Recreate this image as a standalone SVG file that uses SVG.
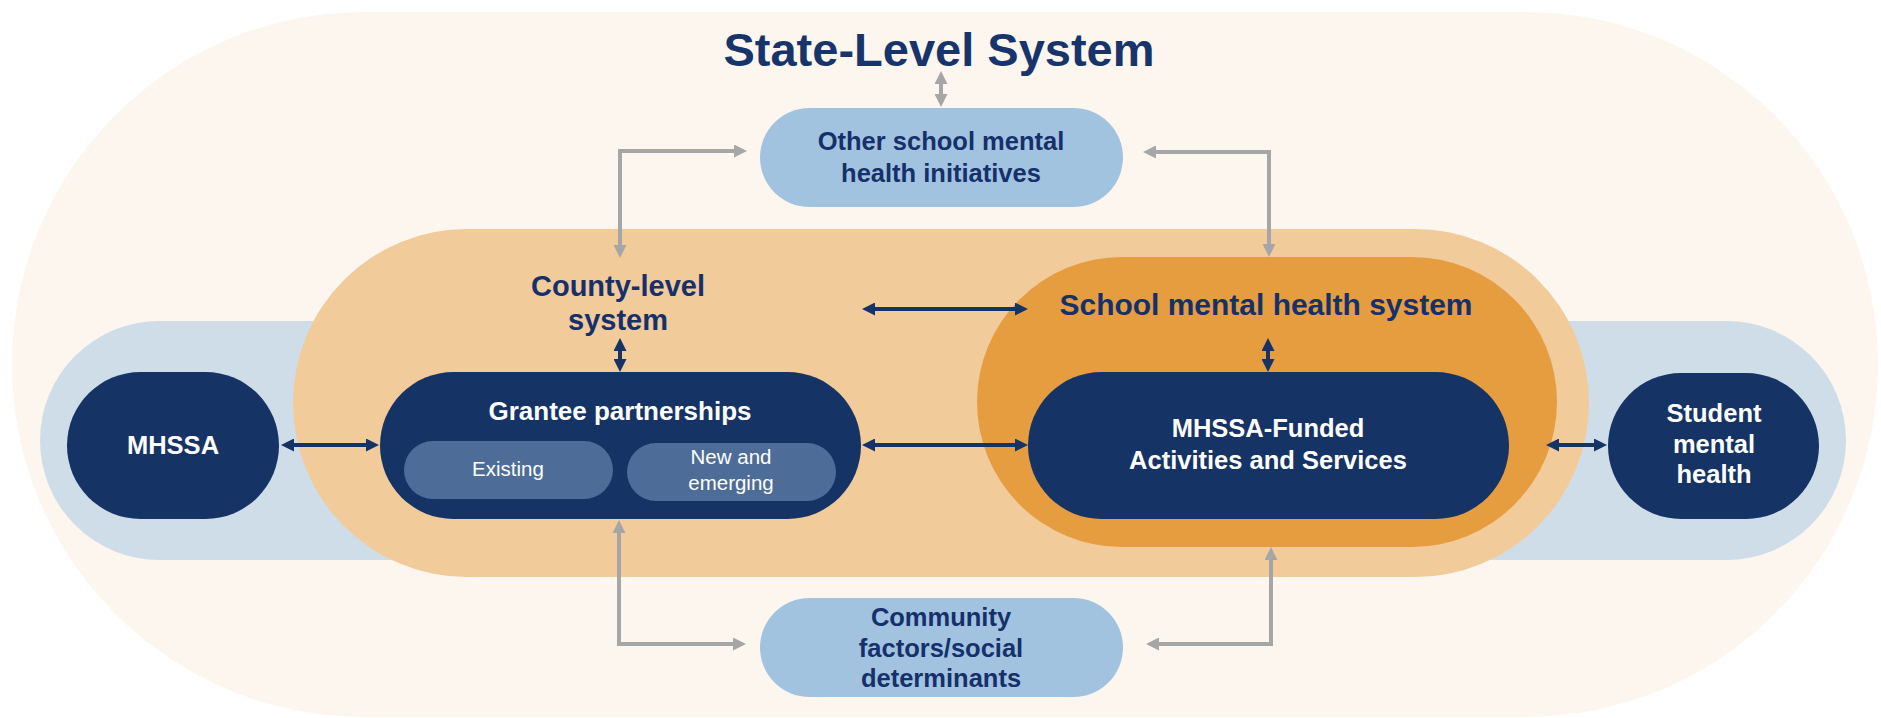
<svg xmlns="http://www.w3.org/2000/svg" width="1881" height="718" viewBox="0 0 1881 718">
<defs>
<style>
.t{font-family:"Liberation Sans",Arial,sans-serif;font-weight:bold;text-anchor:middle}
.nv{fill:#15306A}
.wh{fill:#FFFFFF}
.reg{font-family:"Liberation Sans",Arial,sans-serif;font-weight:normal;text-anchor:middle;fill:#FFFFFF;font-size:20.5px}
.navy{fill:#163366}
.sub{fill:#4D6D98}
.lb{fill:#A2C3E0}
.cn{fill:none;stroke:#163366;stroke-width:4}
.cg{fill:none;stroke:#A6A6A6;stroke-width:4}
</style>
<marker id="hn" viewBox="0 0 13 13" markerUnits="userSpaceOnUse" markerWidth="13" markerHeight="13" refX="3" refY="6.5" orient="auto-start-reverse">
<path d="M0,0 L13,6.5 L0,13 z" fill="#163366"/>
</marker>
<marker id="hg" viewBox="0 0 13 13" markerUnits="userSpaceOnUse" markerWidth="13" markerHeight="13" refX="3" refY="6.5" orient="auto-start-reverse">
<path d="M0,0 L13,6.5 L0,13 z" fill="#A6A6A6"/>
</marker>
</defs>

<g id="state-level-system">
<rect x="12" y="12" width="1866" height="705" rx="352.5" ry="352.5" fill="#FDF6EF"/>
<text class="t" x="939" y="66" font-size="47" fill="#17356B">State-Level System</text>
</g>

<g id="outer-band">
<rect x="40" y="321" width="1806" height="239" rx="119.5" ry="119.5" fill="#CFDDE8"/>
</g>

<g id="county-level-system">
<rect x="293" y="229" width="1296" height="348" rx="174" ry="174" fill="#F2CB9B"/>
<text class="t nv" font-size="29" x="618" y="296">County-level</text>
<text class="t nv" font-size="29" x="618" y="330">system</text>
</g>

<g id="school-mental-health-system">
<rect x="977" y="257" width="580" height="290" rx="145" ry="145" fill="#E69D40"/>
<text class="t nv" font-size="29" x="1266" y="315" textLength="413" lengthAdjust="spacingAndGlyphs">School mental health system</text>
</g>

<g id="other-initiatives">
<rect x="760" y="108" width="363" height="99" rx="49.5" ry="49.5" class="lb"/>
<text class="t nv" font-size="25.5" x="941" y="150">Other school mental</text>
<text class="t nv" font-size="25.5" x="941" y="182">health initiatives</text>
</g>

<g id="community-factors">
<rect x="760" y="598" width="363" height="99" rx="49.5" ry="49.5" class="lb"/>
<text class="t nv" font-size="25.5" x="941" y="626">Community</text>
<text class="t nv" font-size="25.5" x="941" y="657">factors/social</text>
<text class="t nv" font-size="25.5" x="941" y="687">determinants</text>
</g>

<g id="mhssa">
<rect x="67" y="372" width="212" height="147" rx="73.5" ry="73.5" class="navy"/>
<text class="t wh" font-size="25.5" x="173" y="454">MHSSA</text>
</g>

<g id="grantee-partnerships">
<rect x="380" y="372" width="481" height="147" rx="73.5" ry="73.5" class="navy"/>
<text class="t wh" font-size="26" x="620" y="420">Grantee partnerships</text>
<g id="existing">
<rect x="404" y="441" width="209" height="58" rx="29" ry="29" class="sub"/>
<text class="reg" x="508" y="476">Existing</text>
</g>
<g id="new-and-emerging">
<rect x="627" y="443" width="209" height="58" rx="29" ry="29" class="sub"/>
<text class="reg" x="731" y="464">New and</text>
<text class="reg" x="731" y="490">emerging</text>
</g>
</g>

<g id="mhssa-funded">
<rect x="1028" y="372" width="481" height="147" rx="73.5" ry="73.5" class="navy"/>
<text class="t wh" font-size="25.5" x="1268" y="437">MHSSA-Funded</text>
<text class="t wh" font-size="25.5" x="1268" y="469">Activities and Services</text>
</g>

<g id="student-mental-health">
<rect x="1608" y="373" width="211" height="146" rx="73" ry="73" class="navy"/>
<text class="t wh" font-size="25.5" x="1714" y="422">Student</text>
<text class="t wh" font-size="25.5" x="1714" y="453">mental</text>
<text class="t wh" font-size="25.5" x="1714" y="483">health</text>
</g>

<g id="connectors">
<path class="cg" d="M941,81 V97" marker-start="url(#hg)" marker-end="url(#hg)"/>
<path class="cg" d="M620,248 V151 H737" marker-start="url(#hg)" marker-end="url(#hg)"/>
<path class="cg" d="M1153,152 H1269 V247" marker-start="url(#hg)" marker-end="url(#hg)"/>
<path class="cg" d="M619,530 V644 H736" marker-start="url(#hg)" marker-end="url(#hg)"/>
<path class="cg" d="M1156,644 H1271 V557" marker-start="url(#hg)" marker-end="url(#hg)"/>
<path class="cn" d="M620,348 V362" marker-start="url(#hn)" marker-end="url(#hn)"/>
<path class="cn" d="M1268,348 V362" marker-start="url(#hn)" marker-end="url(#hn)"/>
<path class="cn" d="M872,309 H1018" marker-start="url(#hn)" marker-end="url(#hn)"/>
<path class="cn" d="M291,445 H369" marker-start="url(#hn)" marker-end="url(#hn)"/>
<path class="cn" d="M872,445 H1018" marker-start="url(#hn)" marker-end="url(#hn)"/>
<path class="cn" d="M1556,445 H1597" marker-start="url(#hn)" marker-end="url(#hn)"/>
</g>
</svg>
